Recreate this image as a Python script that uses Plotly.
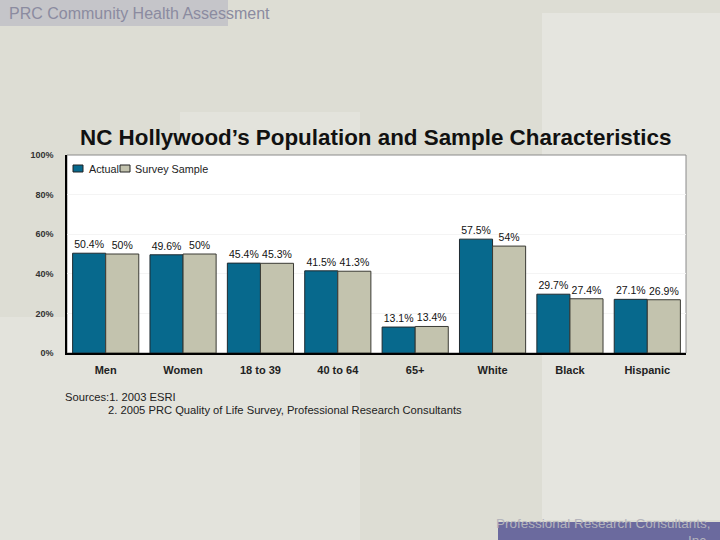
import plotly.graph_objects as go

# dados
categorias = ["Men", "Women", "18 to 39", "40 to 64", "65+", "White", "Black", "Hispanic"]
actual = [50.4, 49.6, 45.4, 41.5, 13.1, 57.5, 29.7, 27.1]
survey = [50, 50, 45.3, 41.3, 13.4, 54, 27.4, 26.9]
yticks = [0, 20, 40, 60, 80, 100]

W, H = 720, 540
L, R, T, B = 67, 686, 155, 353

cor_actual = "#07698d"
cor_survey = "#c3c3ae"


def px(x):
    return (x - L) / (R - L)


def py(y):
    return (B - y) / (B - T)


fonte = "Liberation Sans, Arial, sans-serif"

fig = go.Figure()
fig.add_trace(go.Bar(x=categorias, y=actual, name="Actual",
                     marker=dict(color=cor_actual, line=dict(color="#1f2a30", width=1)),
                     text=[f"{v:g}%" for v in actual], textposition="outside",
                     textfont=dict(size=10.5, color="#111"), cliponaxis=False))
fig.add_trace(go.Bar(x=categorias, y=survey, name="Survey Sample",
                     marker=dict(color=cor_survey, line=dict(color="#3a3a34", width=1)),
                     text=[f"{v:g}%" for v in survey], textposition="outside",
                     textfont=dict(size=10.5, color="#111"), cliponaxis=False))

# fundo do slide
shapes = [
    dict(type="rect", x0=px(0), x1=px(228), y0=py(0), y1=py(26), fillcolor="#c5c5c9", line_width=0),
    dict(type="rect", x0=px(180), x1=px(360), y0=py(112), y1=py(540), fillcolor="#e3e3dc", line_width=0),
    dict(type="rect", x0=px(542), x1=px(720), y0=py(13), y1=py(520), fillcolor="#e5e5df", line_width=0),
    dict(type="rect", x0=px(0), x1=px(180), y0=py(317), y1=py(540), fillcolor="#e3e3dc", line_width=0),
    dict(type="rect", x0=px(498), x1=px(720), y0=py(522), y1=py(540), fillcolor="#6b6a9e", line_width=0),
    dict(type="rect", x0=0, x1=1, y0=0, y1=1, fillcolor="white", line=dict(color="#8a8a8a", width=1)),
    # legenda feita à mão (mais compacta que a do plotly)
    dict(type="rect", x0=px(73), x1=px(83), y0=py(165), y1=py(172), fillcolor=cor_actual,
         line=dict(color="#222", width=1)),
    dict(type="rect", x0=px(120), x1=px(130), y0=py(165), y1=py(172), fillcolor=cor_survey,
         line=dict(color="#222", width=1)),
]
for s in shapes:
    s["xref"] = "paper"
    s["yref"] = "paper"
    s["layer"] = "below"

anotacoes = [
    dict(text="PRC Community Health Assessment", x=px(7), y=py(13), xanchor="left", yanchor="middle",
         font=dict(size=16, color="#8b8ba0")),
    dict(text="<b>NC Hollywood’s Population and Sample Characteristics</b>", x=px(375), y=py(137),
         xanchor="center", yanchor="middle", font=dict(size=22.4, color="#111")),
    dict(text="Actual", x=px(87), y=py(168.5), xanchor="left", yanchor="middle",
         font=dict(size=10.8, color="#222")),
    dict(text="Survey Sample", x=px(133), y=py(168.5), xanchor="left", yanchor="middle",
         font=dict(size=10.8, color="#222")),
    dict(text="Sources:1. 2003 ESRI", x=px(63), y=py(397), xanchor="left", yanchor="middle",
         font=dict(size=11.2, color="#222")),
    dict(text="2. 2005 PRC Quality of Life Survey, Professional Research Consultants", x=px(106), y=py(410),
         xanchor="left", yanchor="middle", font=dict(size=11.2, color="#222")),
    dict(text="Professional Research Consultants,", x=px(713), y=py(523), xanchor="right", yanchor="middle",
         font=dict(size=13.5, color="#b4b4bc")),
    dict(text="Inc.", x=px(712), y=py(540), xanchor="right", yanchor="middle",
         font=dict(size=13.5, color="#b4b4bc")),
]
for a in anotacoes:
    a["xref"] = "paper"
    a["yref"] = "paper"
    a["showarrow"] = False

fig.update_layout(
    width=W, height=H,
    margin=dict(l=L, r=W - R, t=T, b=H - B, pad=0),
    paper_bgcolor="#ddddd4",
    plot_bgcolor="rgba(0,0,0,0)",
    font=dict(family=fonte, color="#222"),
    barmode="group", bargap=0.145, bargroupgap=0,
    showlegend=False,
    shapes=shapes,
    annotations=anotacoes,
)
fig.update_traces(constraintext="none")
fig.update_xaxes(showline=True, linecolor="black", linewidth=1.5, ticks="", showgrid=False,
                 tickfont=dict(size=11, color="#222", family=fonte), ticklabelstandoff=6,
                 tickprefix="<b>", ticksuffix="</b>")
fig.update_yaxes(range=[0, 100], tickvals=yticks, ticktext=[f"<b>{v}%</b>" for v in yticks],
                 showline=True, linecolor="black", linewidth=1.5, ticks="",
                 showgrid=True, gridcolor="#f4f4f4", zeroline=False,
                 tickfont=dict(size=9, color="#333"), ticklabelstandoff=10)

# tira a margem padrão do <body> para a figura ficar colada no canto
fig.write_html("out.html", config={"displayModeBar": False},
               post_script="document.body.style.margin='0';")
